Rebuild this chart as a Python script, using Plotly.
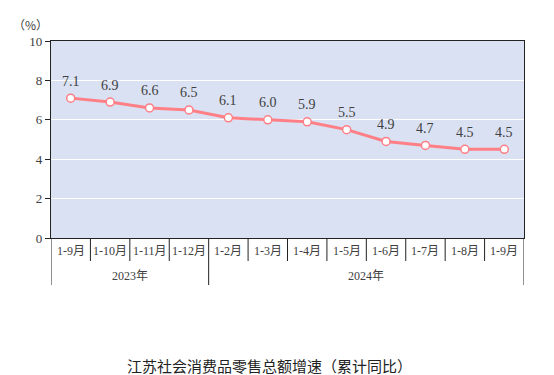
import plotly.graph_objects as go

years = ["2023年", "2024年"]
year_counts = [4, 8]
months = ["1-9月", "1-10月", "1-11月", "1-12月", "1-2月", "1-3月", "1-4月",
          "1-5月", "1-6月", "1-7月", "1-8月", "1-9月"]
values = [7.1, 6.9, 6.6, 6.5, 6.1, 6.0, 5.9, 5.5, 4.9, 4.7, 4.5, 4.5]
y_ticks = [0, 2, 4, 6, 8, 10]

serif = "Liberation Serif, Noto Sans CJK SC, serif"
# page body has an 8px default margin; compensate so the plot lands where the reference has it
OFF = 8
W, H = 554 - OFF, 375 - OFF
L, R, T, B = 51 - OFF, 30, 41 - OFF, 137
PH = H - T - B  # plot height in px
PW = W - L - R

def py(px_below):
    """paper y for a pixel distance below plot bottom"""
    return -px_below / PH

idx = list(range(len(months)))

fig = go.Figure(go.Scatter(
    x=idx, y=values,
    mode="lines+markers",
    line=dict(color="#FF7F86", width=3),
    marker=dict(size=8, color="white", line=dict(color="#FF7F86", width=1.5)),
    cliponaxis=False,
    hoverinfo="skip",
))

shapes = []
annotations = []
# data labels
for i, v in zip(idx, values):
    annotations.append(dict(text=f"{v:.1f}", xref="x", yref="y", x=i, y=v,
                            yshift=17, showarrow=False, xanchor="center", yanchor="middle",
                            font=dict(family=serif, size=14, color="#404040")))
bounds = [-0.5]
for c in year_counts:
    bounds.append(bounds[-1] + c)
for b in bounds:
    shapes.append(dict(type="line", xref="x", yref="paper", x0=b, x1=b,
                       y0=0, y1=py(47), line=dict(color="#222", width=1)))
for i in idx[1:]:
    b = i - 0.5
    if b in bounds:
        continue
    shapes.append(dict(type="line", xref="x", yref="paper", x0=b, x1=b,
                       y0=0, y1=py(23), line=dict(color="#222", width=1)))
for i, m in zip(idx, months):
    annotations.append(dict(text=m, xref="x", yref="paper", x=i, y=py(13),
                            showarrow=False, xanchor="center", yanchor="middle",
                            font=dict(family=serif, size=12, color="#404040")))
for k, yname in enumerate(years):
    annotations.append(dict(text=yname, xref="x", yref="paper",
                            x=(bounds[k] + bounds[k + 1]) / 2, y=py(38),
                            showarrow=False, xanchor="center", yanchor="middle",
                            font=dict(family=serif, size=12, color="#404040")))
annotations.append(dict(text="（%）", xref="paper", yref="paper", x=-1 / PW, y=1 + 16 / PH,
                        xanchor="right", yanchor="middle", showarrow=False,
                        font=dict(family="Noto Sans CJK SC", size=12, color="#404040")))
annotations.append(dict(text="江苏社会消费品零售总额增速（累计同比）",
                        xref="paper", yref="paper", x=0.462, y=py(127),
                        xanchor="center", yanchor="middle", showarrow=False,
                        font=dict(family="Noto Sans CJK SC", size=15, color="#222")))

fig.update_layout(
    width=W, height=H,
    margin=dict(l=L, r=R, t=T, b=B, autoexpand=False),
    paper_bgcolor="white",
    plot_bgcolor="#D9E1F2",
    showlegend=False,
    font=dict(family=serif, size=12, color="#404040"),
    shapes=shapes,
    annotations=annotations,
)

fig.update_xaxes(
    range=[-0.5, len(months) - 0.5],
    showline=True, linecolor="#222", linewidth=1.2, mirror=True,
    showticklabels=False, ticks="", showgrid=False, zeroline=False,
    automargin=False,
)
fig.update_yaxes(
    range=[0, 10], tickvals=y_ticks,
    showline=True, linecolor="#222", linewidth=1.2, mirror=True,
    ticks="outside", ticklen=5, tickcolor="#222",
    gridcolor="white", gridwidth=1, zeroline=False,
    tickfont=dict(family=serif, size=13, color="#404040"),
    automargin=False,
)

fig.write_html("out.html")
